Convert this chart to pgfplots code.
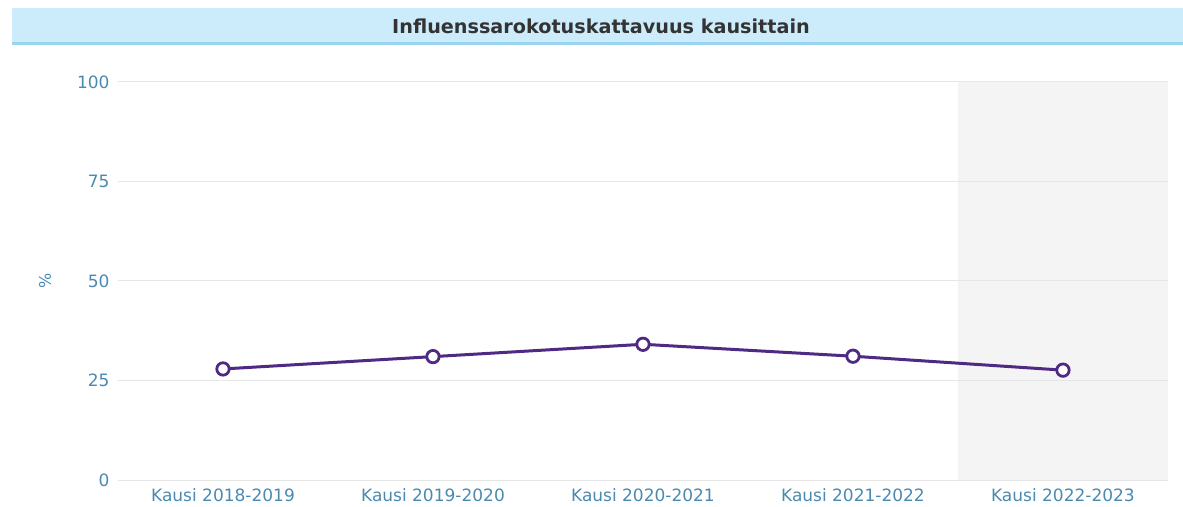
\documentclass[border=0pt]{standalone}
\usepackage{pgfplots}
\pgfplotsset{compat=1.18}
\usepackage{fontspec}
\setmainfont{DejaVu Sans}
\definecolor{titlebg}{HTML}{CCECFC}
\definecolor{titleline}{HTML}{99D4F0}
\definecolor{ticklab}{HTML}{4A8AB0}
\definecolor{lineC}{HTML}{4E2A84}
\definecolor{gridC}{HTML}{E6E6E6}
\definecolor{bandC}{HTML}{F4F4F4}
\begin{document}
\begin{tikzpicture}
\fill[titlebg] (12pt,462pt) rectangle (1183pt,498pt);
\fill[titleline] (12pt,461pt) rectangle (1183pt,464pt);
\node[font=\bfseries\fontsize{19.2}{21}\selectfont, text=black!80] at (601pt,480pt) {Influenssarokotuskattavuus kausittain};
\begin{axis}[
  set layers,
  at={(118pt,26pt)}, anchor=south west,
  width=1050pt, height=398pt, scale only axis,
  xmin=-0.5, xmax=4.5, ymin=0, ymax=100,
  xtick={0,1,2,3,4},
  xticklabels={Kausi 2018-2019,Kausi 2019-2020,Kausi 2020-2021,Kausi 2021-2022,Kausi 2022-2023},
  ytick={0,25,50,75,100},
  axis line style={draw=none},
  major tick length=0pt,
  ymajorgrids, grid style={gridC, line width=1pt},
  tick label style={font=\fontsize{17}{20}\selectfont, text=ticklab},
  /pgf/number format/assume math mode=true,
  yticklabel style={xshift=-5pt},
  xticklabel style={yshift=-5pt},
  ylabel={\%},
  ylabel style={at={(axis description cs:-0.0695,0.5)}, anchor=center, font=\fontsize{16}{18}\selectfont, text=ticklab},
]
\begin{pgfonlayer}{axis background}
\fill[bandC] (axis cs:3.5,0) rectangle (axis cs:4.5,100);
\end{pgfonlayer}
\addplot[lineC, line width=3pt, mark=*, mark size=6.2pt, mark options={fill=white, draw=lineC, line width=2.8pt}]
  coordinates {(0,27.9) (1,31.0) (2,34.1) (3,31.1) (4,27.6)};
\end{axis}
\pgfresetboundingbox
\useasboundingbox (0pt,0pt) rectangle (1183pt,506pt);
\end{tikzpicture}
\end{document}
